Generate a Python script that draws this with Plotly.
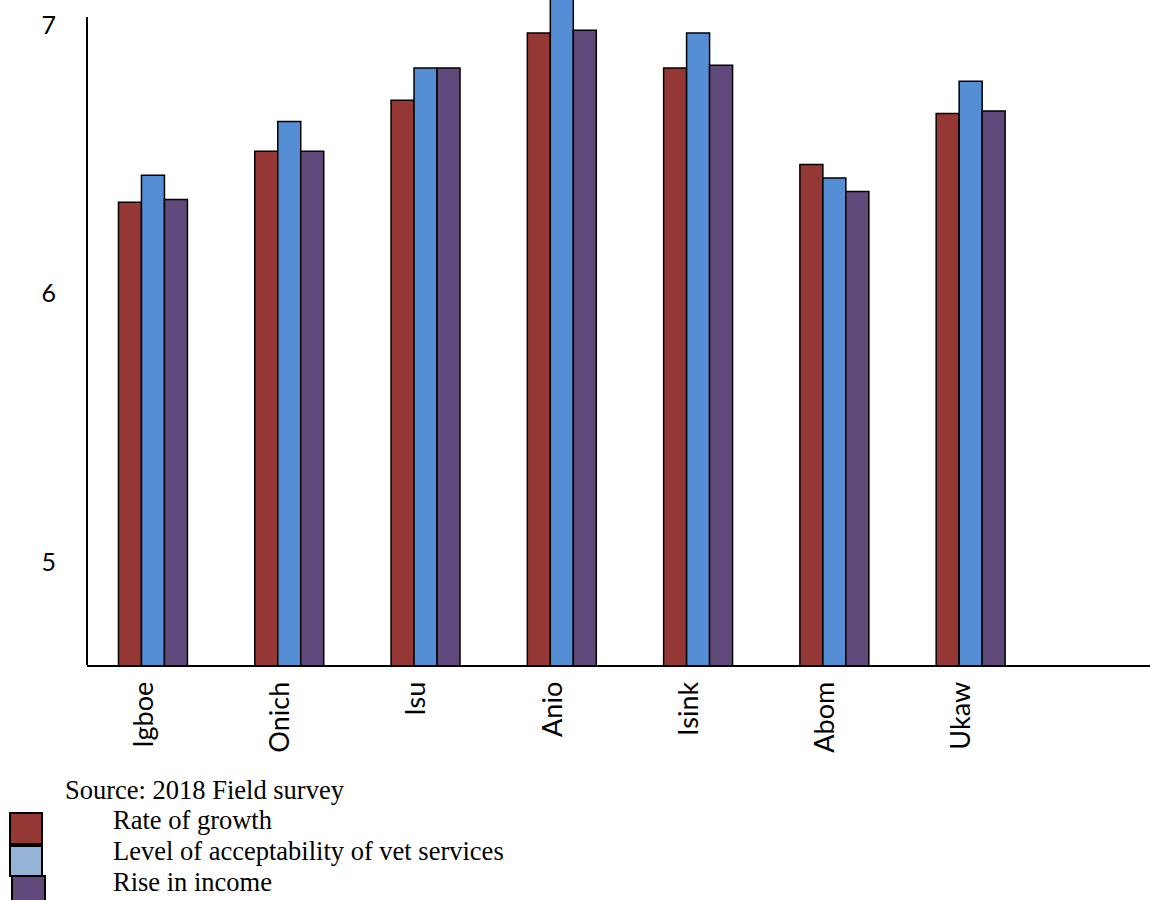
import plotly.graph_objects as go

# Survey results per community
communities = ["Igboe", "Onich", "Isu", "Anio", "Isink", "Abom", "Ukaw"]
series_names = ["Rate of growth", "Level of acceptability of vet services", "Rise in income"]
rate_of_growth = [6.34, 6.53, 6.72, 6.97, 6.84, 6.48, 6.67]
acceptability = [6.44, 6.64, 6.84, 7.12, 6.97, 6.43, 6.79]
rise_in_income = [6.35, 6.53, 6.84, 6.98, 6.85, 6.38, 6.68]
y_ticks = [5, 6, 7]
source_note = "Source: 2018 Field survey"

bar_colors = ["#953735", "#558ed5", "#604a7b"]
legend_colors = ["#953735", "#95b3d7", "#604a7b"]

fig = go.Figure()
for name, vals, col in zip(series_names, [rate_of_growth, acceptability, rise_in_income], bar_colors):
    fig.add_trace(go.Bar(
        x=communities, y=vals, name=name,
        marker=dict(color=col, line=dict(color="black", width=1.5)),
        showlegend=False,
    ))

y_min, y_max = 4.616, 7.093

fig.update_layout(
    width=1150, height=900,
    margin=dict(l=87, r=0, t=0, b=235),
    paper_bgcolor="white", plot_bgcolor="white",
    barmode="group", bargap=0.494, bargroupgap=0,
    font=dict(family="Lato, Open Sans, sans-serif", color="black"),
    xaxis=dict(
        type="category", range=[-0.484, 7.316],
        showline=True, linecolor="black", linewidth=2,
        showgrid=False, ticks="", tickangle=-90,
        tickfont=dict(size=27, family="Lato, Open Sans, sans-serif"),
        ticklabelstandoff=4, ticklabelshift=-9,
    ),
    yaxis=dict(
        range=[y_min, y_max], tickvals=y_ticks,
        showline=False, showgrid=False, zeroline=False, ticks="",
        tickfont=dict(size=25, family="Lato, Open Sans, sans-serif"),
        ticklabelstandoff=30,
    ),
)

# Vertical axis line stops short of the top of the plotting area
fig.add_shape(type="line", xref="paper", yref="y", x0=0, x1=0, y0=y_min, y1=7.03,
              line=dict(color="black", width=2))

serif = "Liberation Serif, Times New Roman, serif"

# Source note and hand-built legend below the chart
fig.add_annotation(xref="paper", yref="paper", x=(63 - 87) / 1063, y=(665 - 790) / 665,
                   xanchor="left", yanchor="middle", text=source_note, showarrow=False,
                   font=dict(family=serif, size=26.5, color="black"))

swatch_rows = [(10, 42, 813, 844), (10, 42, 846, 876), (12, 45, 876, 902)]
label_rows = [820, 851, 882]
for (x0, x1, y0, y1), col, name, ly in zip(swatch_rows, legend_colors, series_names, label_rows):
    fig.add_shape(type="rect", xref="paper", yref="paper",
                  x0=(x0 - 87) / 1063, x1=(x1 - 87) / 1063,
                  y0=(665 - y1) / 665, y1=(665 - y0) / 665,
                  fillcolor=col, line=dict(color="black", width=2))
    fig.add_annotation(xref="paper", yref="paper", x=(111 - 87) / 1063, y=(665 - ly) / 665,
                       xanchor="left", yanchor="middle", text=name, showarrow=False,
                       font=dict(family=serif, size=26.5, color="black"))

fig.write_html("out.html")
